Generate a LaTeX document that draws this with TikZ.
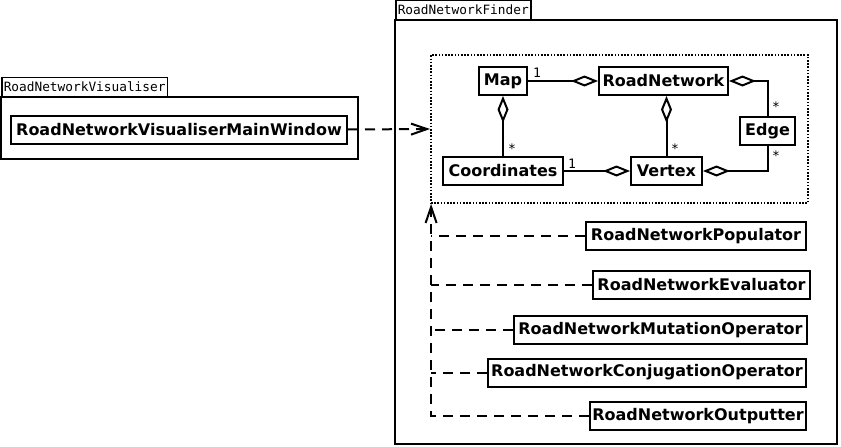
\documentclass[tikz,border=0pt]{standalone}
\usepackage{fontspec}
\setmainfont{DejaVu Sans}
\newfontfamily\monof{DejaVu Sans Mono}
\usetikzlibrary{arrows.meta}
\begin{document}
\begin{tikzpicture}[x=1pt,y=-1pt,
  cls/.style={draw, line width=2pt, font=\fontsize{16}{18}\selectfont\bfseries, inner sep=0pt, minimum height=28pt},
  tabbox/.style={draw, line width=1.5pt, font=\monof\fontsize{12.8}{14}\selectfont, inner xsep=2pt, inner ysep=0pt, anchor=south west, minimum height=19pt},
  pkg/.style={draw, line width=2pt},
  agg/.style={line width=2pt, -{Diamond[open, length=27pt, width=11pt, line width=2pt]}},
  dep/.style={line width=2pt, dash pattern=on 10pt off 7pt},
  deptip/.style={-{Straight Barb[length=16pt, width=11pt, line width=2pt]}},
  mult/.style={font=\monof\fontsize{13}{14}\selectfont, inner sep=0pt},
  core/.style={draw, line width=1.8pt, dash pattern=on 1.6pt off 1.6pt, inner sep=0pt}
]
\useasboundingbox (0,0) rectangle (841,447);

% packages
\node[tabbox] (vtab) at (1,97) {RoadNetworkVisualiser};
\draw[pkg] (1,97) rectangle (358,159);
\node[tabbox] (ftab) at (395,20) {RoadNetworkFinder};
\draw[pkg] (395,20) rectangle (837,444);

% core frame
\node[core, minimum width=377pt, minimum height=148pt] (core) at (619.5,129) {};

% classes
\node[cls, minimum width=336pt] (mw) at (179,129.5) {RoadNetworkVisualiserMainWindow};
\node[cls, minimum width=48pt] (map) at (503,81) {Map};
\node[cls, minimum width=129pt] (rn) at (663.5,81) {RoadNetwork};
\node[cls, minimum width=55pt] (edge) at (767.5,131) {Edge};
\node[cls, minimum width=120pt] (coord) at (503,171) {Coordinates};
\node[cls, minimum width=71pt] (vert) at (666.5,171) {Vertex};

\node[cls, minimum width=220pt] (pop) at (696,236) {RoadNetworkPopulator};
\node[cls, minimum width=217pt] (eval) at (701.5,285) {RoadNetworkEvaluator};
\node[cls, minimum width=293pt] (mut) at (660.5,330) {RoadNetworkMutationOperator};
\node[cls, minimum width=318pt] (conj) at (647,372.5) {RoadNetworkConjugationOperator};
\node[cls, minimum width=216pt] (out) at (698,416) {RoadNetworkOutputter};

% aggregations
\draw[agg] (map.east) -- (rn.west);
\draw[agg] (edge.north) |- (rn.east);
\draw[agg] (coord.north) -- (map.south);
\draw[agg] (vert.north) -- (vert.north |- rn.south);
\draw[agg] (coord.east) -- (vert.west);
\draw[agg] (edge.south) |- (vert.east);

% multiplicities
\node[mult] (m1) at (537,73) {1};
\node[mult] (m2) at (776,107) {*};
\node[mult] (m3) at (512,149) {*};
\node[mult] (m4) at (675,149) {*};
\node[mult] (m5) at (572,164) {1};
\node[mult] (m6) at (776,156) {*};

% dependencies
\coordinate (tip) at ([xshift=1pt]core.south west);
\draw[dep, deptip] (mw.east) -- (core.west);
\draw[dep, deptip] (out.west) -- (tip |- out.west) -- (tip);
\draw[dep] (pop.west) -- (tip |- pop.west);
\draw[dep] (eval.west) -- (tip |- eval.west);
\draw[dep] (mut.west) -- (tip |- mut.west);
\draw[dep] (conj.west) -- (tip |- conj.west);
\end{tikzpicture}
\end{document}
